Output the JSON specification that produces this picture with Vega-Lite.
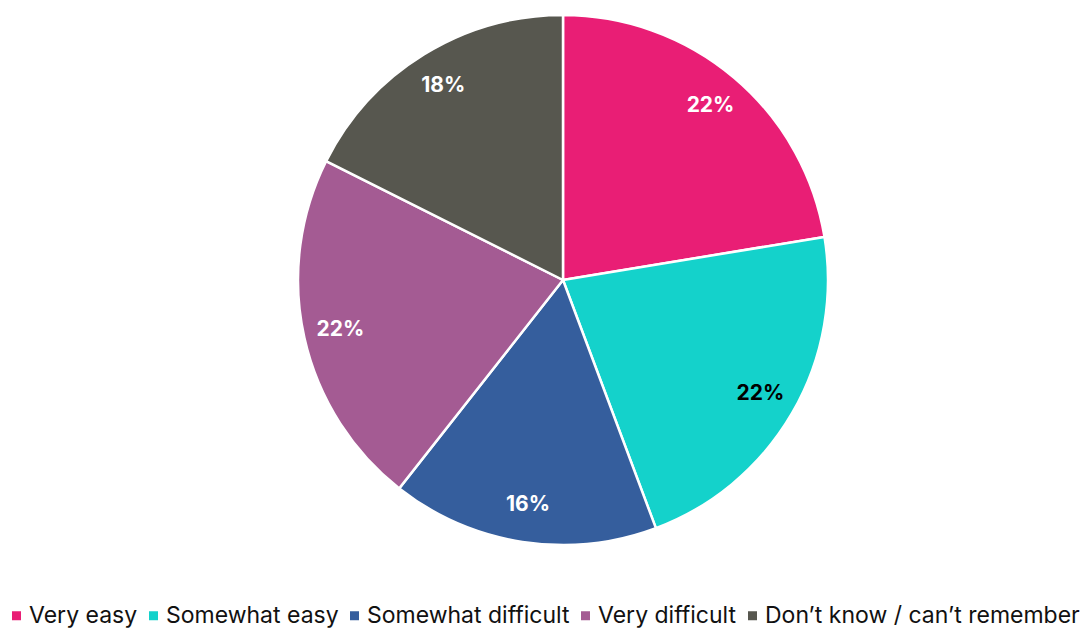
{
  "$schema": "https://vega.github.io/schema/vega-lite/v6.json",
  "autosize": "none",
  "width": 1042,
  "height": 560,
  "padding": {"left": 42, "top": 0, "right": 0, "bottom": 70},
  "background": "white",
  "config": {"view": {"stroke": null}, "font": "Inter"},
  "data": {
    "values": [
      {"i": 1, "category": "Very easy", "value": 0.224},
      {"i": 2, "category": "Somewhat easy", "value": 0.219},
      {"i": 3, "category": "Somewhat difficult", "value": 0.163},
      {"i": 4, "category": "Very difficult", "value": 0.218},
      {"i": 5, "category": "Don’t know / can’t remember", "value": 0.176}
    ]
  },
  "encoding": {
    "theta": {"field": "value", "type": "quantitative", "stack": true},
    "order": {"field": "i", "type": "quantitative"}
  },
  "layer": [
    {
      "mark": {"type": "arc", "outerRadius": 265, "stroke": "white", "strokeWidth": 2.5},
      "encoding": {
        "color": {
          "field": "category",
          "type": "nominal",
          "sort": null,
          "scale": {
            "domain": ["Very easy", "Somewhat easy", "Somewhat difficult", "Very difficult", "Don’t know / can’t remember"],
            "range": ["#E91E75", "#14D2CB", "#355E9D", "#A45B93", "#57574F"]
          },
          "legend": {
            "title": null,
            "orient": "none",
            "direction": "horizontal",
            "legendX": -37,
            "legendY": 604,
            "symbolType": "square",
            "symbolSize": 81,
            "symbolStrokeWidth": 0,
            "labelFont": "Inter",
            "labelFontSize": 23,
            "labelColor": "#111111",
            "labelOffset": 1,
            "columnPadding": 4,
            "labelLimit": 400
          }
        }
      }
    },
    {
      "mark": {"type": "text", "radius": 228, "fontSize": 21, "fontWeight": "bold", "font": "Inter"},
      "encoding": {
        "text": {"field": "value", "type": "quantitative", "format": ".0%"},
        "color": {
          "condition": {"test": "datum.category === 'Somewhat easy'", "value": "#000000"},
          "value": "#ffffff"
        }
      }
    }
  ]
}
